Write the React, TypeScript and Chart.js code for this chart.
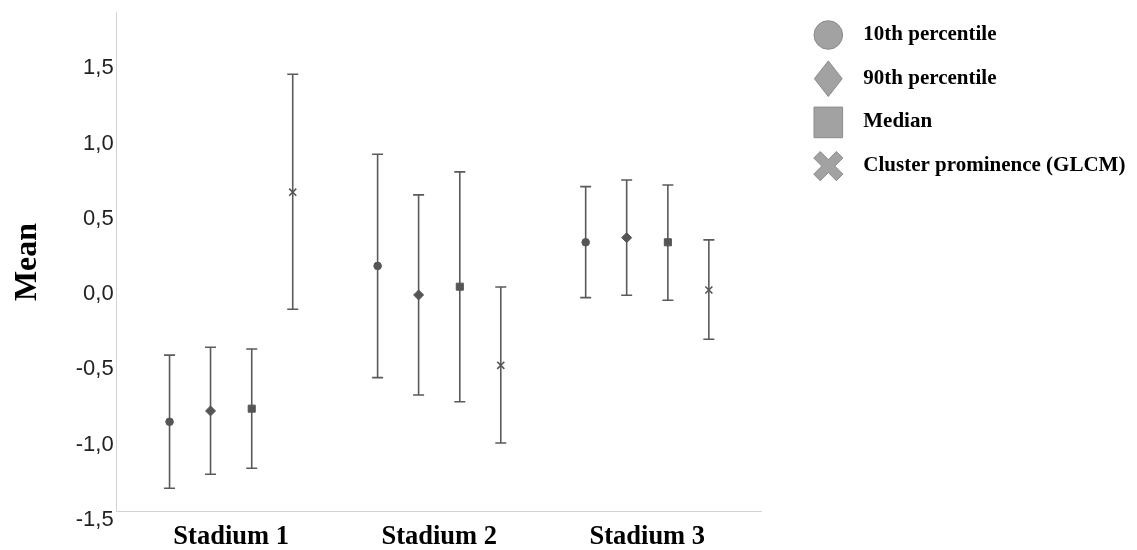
import { useEffect, useRef } from 'react';
import { Chart, registerables } from 'chart.js';

Chart.register(...registerables);

const categories = ['Stadium 1', 'Stadium 2', 'Stadium 3'];
const seriesNames = ['10th percentile', '90th percentile', 'Median', 'Cluster prominence (GLCM)'];

const p10Mean = [-0.902, 0.134, 0.291];
const p10Lower = [-1.344, -0.609, -0.077];
const p10Upper = [-0.459, 0.876, 0.661];

const p90Mean = [-0.83, -0.059, 0.322];
const p90Lower = [-1.251, -0.724, -0.061];
const p90Upper = [-0.407, 0.606, 0.705];

const medianMean = [-0.815, -0.004, 0.291];
const medianLower = [-1.211, -0.769, -0.094];
const medianUpper = [-0.418, 0.759, 0.672];

const clusterMean = [0.624, -0.527, -0.026];
const clusterLower = [-0.154, -1.043, -0.354];
const clusterUpper = [1.408, -0.006, 0.307];

const yTicks = [-1.5, -1.0, -0.5, 0, 0.5, 1.0, 1.5];

const means = [p10Mean, p90Mean, medianMean, clusterMean];
const lowers = [p10Lower, p90Lower, medianLower, clusterLower];
const uppers = [p10Upper, p90Upper, medianUpper, clusterUpper];
const pointStyles = ['circle', 'rectRot', 'rect', 'crossRot'];
const pointRadii = [3.8, 5, 5, 5];
const dodge = [-0.296, -0.099, 0.099, 0.296];

const MARK = '#555555';
const LEG_FILL = '#a2a2a2';
const LEG_STROKE = '#8a8a8a';

const errorBarPlugin = {
  id: 'errorBars',
  beforeDatasetsDraw(chart: any) {
    const ctx = chart.ctx;
    const yScale = chart.scales.y;
    ctx.save();
    ctx.strokeStyle = '#5a5a5a';
    ctx.lineWidth = 1.6;
    chart.data.datasets.forEach((ds: any, di: number) => {
      const meta = chart.getDatasetMeta(di);
      meta.data.forEach((el: any, i: number) => {
        const raw = ds.data[i];
        const x = el.x;
        const yl = yScale.getPixelForValue(raw.lower);
        const yu = yScale.getPixelForValue(raw.upper);
        ctx.beginPath();
        ctx.moveTo(x, yl);
        ctx.lineTo(x, yu);
        ctx.moveTo(x - 5.5, yl);
        ctx.lineTo(x + 5.5, yl);
        ctx.moveTo(x - 5.5, yu);
        ctx.lineTo(x + 5.5, yu);
        ctx.stroke();
      });
    });
    ctx.restore();
  },
};

const legendPlugin = {
  id: 'customLegend',
  afterDraw(chart: any) {
    const ctx = chart.ctx;
    const mx = chart.chartArea.right + 66.6;
    const tx = chart.chartArea.right + 101.6;
    ctx.save();
    seriesNames.forEach((name, i) => {
      const cy = 35 + i * 43.7;
      ctx.fillStyle = LEG_FILL;
      ctx.strokeStyle = LEG_STROKE;
      ctx.lineWidth = 1;
      ctx.beginPath();
      if (i === 0) {
        ctx.arc(mx, cy, 14.3, 0, Math.PI * 2);
      } else if (i === 1) {
        ctx.moveTo(mx, cy - 17.8);
        ctx.lineTo(mx + 13.9, cy);
        ctx.lineTo(mx, cy + 17.8);
        ctx.lineTo(mx - 13.9, cy);
        ctx.closePath();
      } else if (i === 2) {
        ctx.rect(mx - 14.3, cy - 15.3, 28.6, 30.6);
      } else {
        const t = 4.6;
        const L = 16;
        const pts = [
          [t, L], [t, t], [L, t], [L, -t], [t, -t], [t, -L],
          [-t, -L], [-t, -t], [-L, -t], [-L, t], [-t, t], [-t, L],
        ];
        const c = Math.SQRT1_2;
        pts.forEach(([px, py], k) => {
          const rx = mx + (px - py) * c;
          const ry = cy + (px + py) * c;
          if (k === 0) ctx.moveTo(rx, ry);
          else ctx.lineTo(rx, ry);
        });
        ctx.closePath();
      }
      ctx.fill();
      ctx.stroke();
      ctx.fillStyle = '#000000';
      ctx.font = 'bold 21px "Liberation Serif"';
      ctx.textAlign = 'left';
      ctx.textBaseline = 'alphabetic';
      ctx.fillText(name, tx, cy + 5);
    });
    ctx.restore();
  },
};

export default function App() {
  const ref = useRef<HTMLCanvasElement | null>(null);

  useEffect(() => {
    if (!ref.current) return;
    const datasets = seriesNames.map((name, s) => ({
      label: name,
      data: categories.map((_, i) => ({
        x: i + 1 + dodge[s],
        y: means[s][i],
        lower: lowers[s][i],
        upper: uppers[s][i],
      })),
      pointStyle: pointStyles[s],
      pointRadius: pointRadii[s],
      pointBackgroundColor: MARK,
      pointBorderColor: MARK,
      pointBorderWidth: s === 3 ? 1.6 : 1,
      showLine: false,
    }));

    const chart = new Chart(ref.current, {
      type: 'scatter',
      data: { datasets: datasets as any },
      options: {
        animation: false,
        responsive: false,
        layout: { padding: { left: 0, right: 375.3, top: 12.3, bottom: 0 } },
        plugins: {
          legend: { display: false },
          tooltip: { enabled: false },
        },
        scales: {
          x: {
            type: 'linear',
            min: 0.45,
            max: 3.55,
            afterBuildTicks: (axis: any) => {
              axis.ticks = categories.map((_, i) => ({ value: i + 1 }));
            },
            afterFit: (axis: any) => {
              axis.height = 38.3;
              axis.paddingLeft = 0;
              axis.paddingRight = 0;
            },
            grid: { display: false, drawTicks: false, tickLength: 0 },
            border: { display: true, color: '#d2d2d2', width: 1 },
            ticks: {
              autoSkip: false,
              maxRotation: 0,
              padding: 10,
              color: '#000000',
              font: { family: '"Liberation Serif"', size: 26.5, weight: 'bold' },
              callback: (v: any) => categories[Math.round(v) - 1] ?? '',
            },
          },
          y: {
            type: 'linear',
            min: -1.5,
            max: 1.82,
            afterBuildTicks: (axis: any) => {
              axis.ticks = yTicks.map((v) => ({ value: v }));
            },
            afterFit: (axis: any) => {
              axis.width = 116.7;
              axis.paddingTop = 0;
              axis.paddingBottom = 0;
            },
            grid: { display: false, drawTicks: false, tickLength: 0 },
            border: { display: true, color: '#d2d2d2', width: 1 },
            title: {
              display: true,
              text: 'Mean',
              color: '#000000',
              font: { family: '"Liberation Serif"', size: 32, weight: 'bold' },
              padding: { top: 9, bottom: 0 },
            },
            ticks: {
              padding: 3,
              labelOffset: 8,
              color: '#222222',
              font: { family: '"Liberation Sans"', size: 22 },
              callback: (v: any) => Number(v).toFixed(1).replace('.', ','),
            },
          },
        },
      },
      plugins: [errorBarPlugin, legendPlugin],
    });
    return () => chart.destroy();
  }, []);

  return (
    <canvas
      ref={ref}
      width={1137}
      height={550}
      style={{ position: 'absolute', left: 0, top: 0, width: 1137, height: 550 }}
    />
  );
}
